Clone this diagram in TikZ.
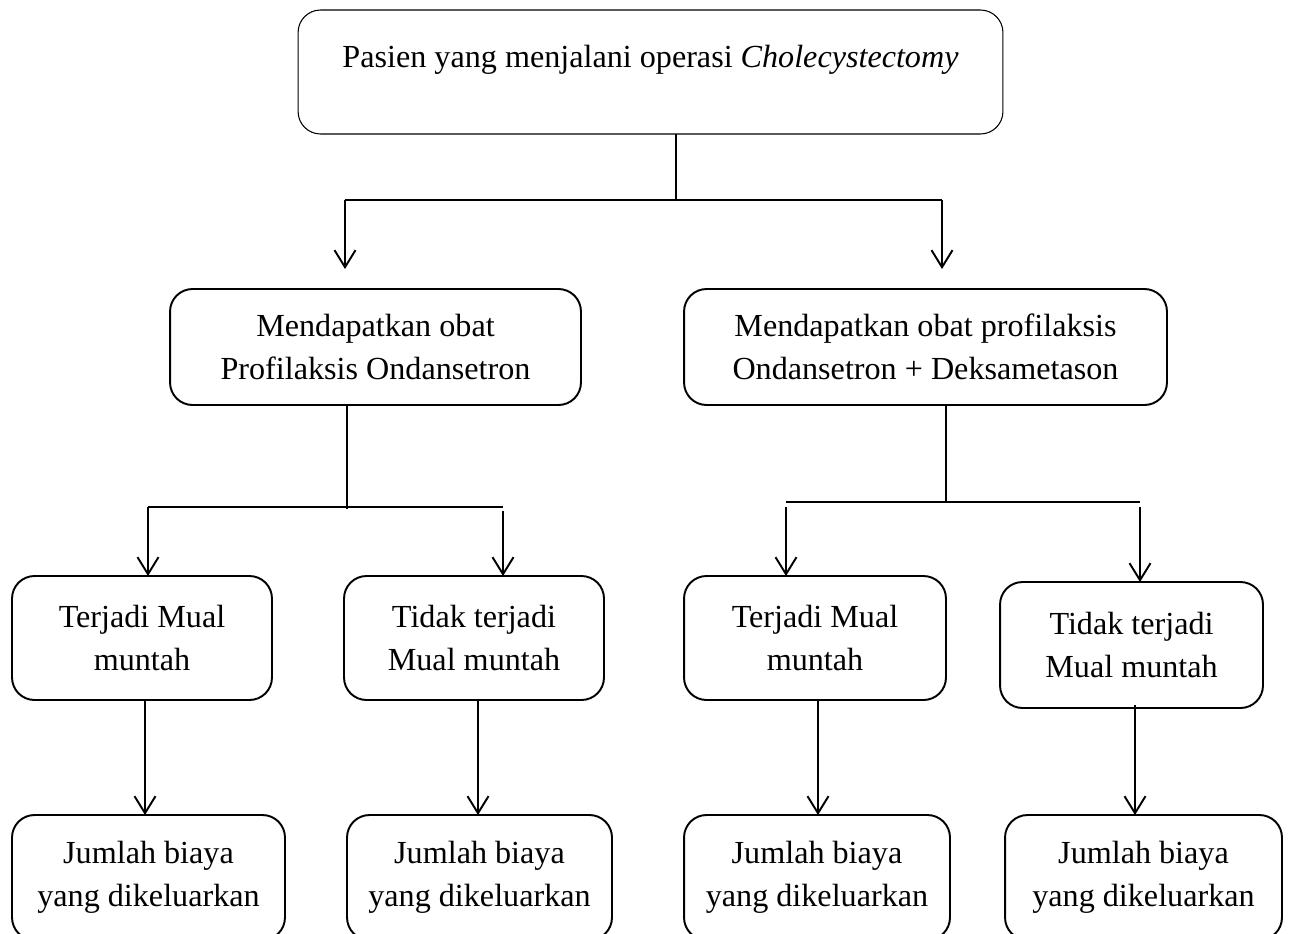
\documentclass[tikz,border=0pt]{standalone}
\usepackage{fontspec}
\setmainfont{Liberation Serif}
\usetikzlibrary{arrows.meta}

\tikzset{
	box/.style = {draw, line width=1.1pt, rounded corners=0.45cm, inner sep=0pt, outer sep=0pt, align=center, font=\fontsize{18.3}{24.5}\selectfont},
	topbox/.style = {box, line width=0.6pt},
	arr/.style = {line width=1.1pt, -{Straight Barb[length=0.34cm, width=0.42cm, line width=1.1pt]}},
	ln/.style = {line width=1.1pt}
}

\begin{document}
\begin{tikzpicture}[x=0.02cm, y=-0.02cm]
	\useasboundingbox (0,0) rectangle (1290,933);
	\clip (0,0) rectangle (1290,933);
	
	\node[topbox, minimum width=14.1cm, minimum height=2.48cm] (top) at (650.5,72) {};
	\node[font=\fontsize{18.3}{24.5}\selectfont] (toptext) at (650.5,60) {Pasien yang menjalani operasi \textit{Cholecystectomy}};
	
	\node[box, minimum width=8.22cm, minimum height=2.32cm] (ond) at (375.5,347) {Mendapatkan obat\\Profilaksis Ondansetron};
	\node[box, minimum width=9.66cm, minimum height=2.32cm] (deks) at (925.5,347) {Mendapatkan obat profilaksis\\Ondansetron + Deksametason};
	
	\node[box, minimum width=5.2cm, minimum height=2.48cm] (ond_mual) at (142,638) {Terjadi Mual\\muntah};
	\node[box, minimum width=5.2cm, minimum height=2.48cm] (ond_tidak) at (474,638) {Tidak terjadi\\Mual muntah};
	\node[box, minimum width=5.24cm, minimum height=2.48cm] (deks_mual) at (815,638) {Terjadi Mual\\muntah};
	\node[box, minimum width=5.26cm, minimum height=2.52cm] (deks_tidak) at (1131.5,645) {Tidak terjadi\\Mual muntah};
	
	\node[box, minimum width=5.46cm, minimum height=2.5cm] (biaya_a) at (148.5,877.5) {Jumlah biaya\\yang dikeluarkan};
	\node[box, minimum width=5.3cm, minimum height=2.5cm] (biaya_b) at (479.5,877.5) {Jumlah biaya\\yang dikeluarkan};
	\node[box, minimum width=5.32cm, minimum height=2.5cm] (biaya_c) at (817,877.5) {Jumlah biaya\\yang dikeluarkan};
	\node[box, minimum width=5.54cm, minimum height=2.5cm] (biaya_d) at (1143.5,877.5) {Jumlah biaya\\yang dikeluarkan};
	
	\coordinate (split) at (676,200);
	\coordinate (split_l) at (345,200);
	\coordinate (split_r) at (942,200);
	\coordinate (ond_split) at (347,507);
	\coordinate (ond_l) at (148,507);
	\coordinate (ond_r) at (503,507);
	\coordinate (deks_split) at (946,502);
	\coordinate (deks_l) at (786,502);
	\coordinate (deks_r) at (1140,502);
	
	\draw[line width=0.6pt] (top.south -| split) -- (split);
	\draw[ln] (split_l) -- (split_r);
	\draw[arr, shorten >=0.4cm] (split_l) -- (ond.north -| split_l);
	\draw[arr, shorten >=0.4cm] (split_r) -- (deks.north -| split_r);
	
	\draw[ln] (ond.south -| ond_split) -- ([yshift=-0.04cm]ond_split);
	\draw[ln] (ond_l) -- (ond_r);
	\draw[arr] (ond_l) -- (ond_mual.north -| ond_l);
	\draw[arr] ([yshift=-0.08cm]ond_r) -- (ond_tidak.north -| ond_r);
	
	\draw[ln] (deks.south -| deks_split) -- (deks_split);
	\draw[ln] (deks_l) -- (deks_r);
	\draw[arr] ([yshift=-0.1cm]deks_l) -- (deks_mual.north -| deks_l);
	\draw[arr] ([yshift=-0.1cm]deks_r) -- (deks_tidak.north -| deks_r);
	
	\draw[arr] (ond_mual.south -| 145,0) -- (biaya_a.north -| 145,0);
	\draw[arr] (ond_tidak.south -| 478,0) -- (biaya_b.north -| 478,0);
	\draw[arr] (deks_mual.south -| 818,0) -- (biaya_c.north -| 818,0);
	\draw[arr] ([yshift=0.06cm]deks_tidak.south -| 1135,0) -- (biaya_d.north -| 1135,0);
	
\end{tikzpicture}
\end{document}
